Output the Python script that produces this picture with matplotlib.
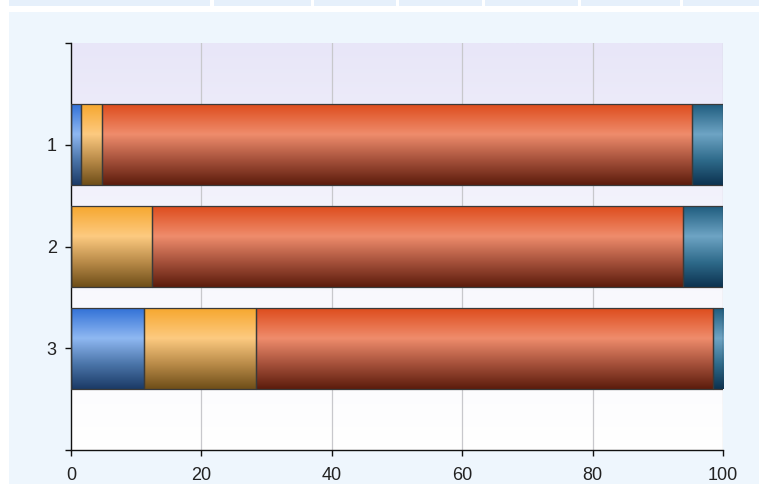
import numpy as np
import matplotlib
matplotlib.use("Agg")
import matplotlib.pyplot as plt
from matplotlib.colors import LinearSegmentedColormap
from matplotlib.patches import Rectangle

categories = ["1", "2", "3"]
blue = [1.5, 0.0, 11.2]
orange = [3.2, 12.4, 17.2]
red = [90.6, 81.5, 70.0]
teal = [4.7, 6.1, 1.6]
xticks = [0, 20, 40, 60, 80, 100]

series = [blue, orange, red, teal]
grads = [
    ["#2f6fd6", "#8fb8f2", "#4a74a8", "#1b3a66"],
    ["#f6a62c", "#fdca80", "#b88a48", "#6e4e18"],
    ["#dd4a1a", "#ef8c6c", "#a4503a", "#5c1c0c"],
    ["#1c5a7c", "#6ea4c4", "#2e6a8a", "#0c3250"],
]

fig = plt.figure(figsize=(7.59, 4.84), dpi=100, facecolor="white")
# background panels
fig.patches.append(Rectangle((9/759, 0), 1, (484-12)/484, transform=fig.transFigure,
                             facecolor="#eef6fd", edgecolor="none", zorder=-5))
cells = [(9, 210), (214, 311), (314, 396), (399, 482), (485, 578), (581, 680), (683, 759)]
for a, b in cells:
    fig.patches.append(Rectangle((a/759, (484-6)/484), (b-a)/759, 6/484, transform=fig.transFigure,
                                 facecolor="#e6f0fb", edgecolor="none", zorder=-5))

ax = fig.add_axes([71/759, 34/484, 652/759, 407/484])
ax.set_zorder(1)
ax.patch.set_alpha(0)
ax.set_xlim(0, 100)
ax.set_ylim(4, 0)

# plot background gradient
bg = np.linspace(0, 1, 256).reshape(-1, 1)
bgcmap = LinearSegmentedColormap.from_list("bg", ["#e8e6f8", "#f6f6fd", "#ffffff"])
ax.imshow(bg, cmap=bgcmap, extent=[0, 1, 0, 1], transform=ax.transAxes, aspect="auto", zorder=0)

for x in xticks[1:]:
    ax.axvline(x, color="#c8c8cc", lw=0.9, zorder=1)

ypos = np.arange(1, len(categories) + 1)
left = np.zeros(len(categories))
grad = np.linspace(0, 1, 256).reshape(-1, 1)
for vals, cols in zip(series, grads):
    vals = np.array(vals)
    bars = ax.barh(ypos, vals, left=left, height=0.8, facecolor="none",
                   edgecolor="#3a3a3a", linewidth=0.9, zorder=3)
    cmap = LinearSegmentedColormap.from_list("g", list(zip([0, 0.38, 0.7, 1.0], cols)))
    for bar in bars:
        if bar.get_width() <= 0:
            continue
        x0, y0 = bar.get_x(), bar.get_y()
        w, h = bar.get_width(), bar.get_height()
        im = ax.imshow(grad, cmap=cmap, extent=[x0, x0 + w, y0 + h, y0], aspect="auto", zorder=2)
        im.set_clip_path(bar)
    left = left + vals

ax.set_xlim(0, 100)
ax.set_ylim(4, 0)
ax.set_xticks(xticks)
ax.set_yticks([0, 1, 2, 3, 4])
ax.set_yticklabels(["", "1", "2", "3", ""])
for s in ["top", "right"]:
    ax.spines[s].set_visible(False)
for s in ["left", "bottom"]:
    ax.spines[s].set_color("#111111")
    ax.spines[s].set_linewidth(1.0)
ax.tick_params(axis="both", length=4.3, width=1.0, color="#111111", labelsize=13, labelcolor="#222222")
ax.tick_params(axis="x", pad=8)
ax.tick_params(axis="y", pad=6)
for lab in ax.get_xticklabels() + ax.get_yticklabels():
    lab.set_fontfamily(["Liberation Sans", "DejaVu Sans"])

fig.savefig("out.png", dpi=100, facecolor=fig.get_facecolor())
